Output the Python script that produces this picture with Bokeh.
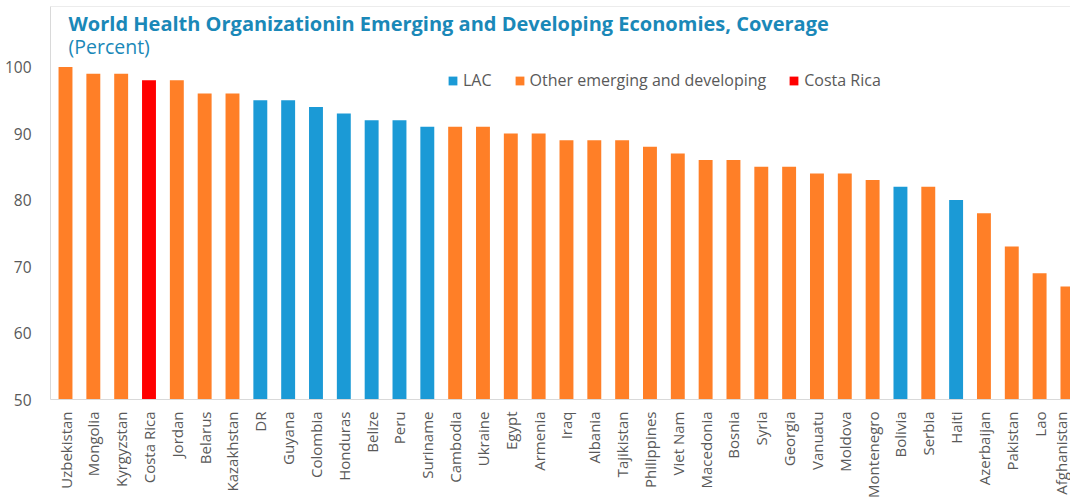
from bokeh.plotting import figure
from bokeh.models import ColumnDataSource, Range1d, FixedTicker, Label, Legend, LegendItem, Span
from bokeh.embed import file_html
from bokeh.resources import INLINE

countries = ["Uzbekistan", "Mongolia", "Kyrgyzstan", "Costa Rica", "Jordan", "Belarus",
             "Kazakhstan", "DR", "Guyana", "Colombia", "Honduras", "Belize", "Peru",
             "Suriname", "Cambodia", "Ukraine", "Egypt", "Armenia", "Iraq", "Albania",
             "Tajikistan", "Philippines", "Viet Nam", "Macedonia", "Bosnia", "Syria",
             "Georgia", "Vanuatu", "Moldova", "Montenegro", "Bolivia", "Serbia", "Haiti",
             "Azerbaijan", "Pakistan", "Lao", "Afghanistan"]
coverage = [100, 99, 99, 98, 98, 96, 96, 95, 95, 94, 93, 92, 92, 91, 91, 91, 90, 90, 89,
            89, 89, 88, 87, 86, 86, 85, 85, 84, 84, 83, 82, 82, 80, 78, 73, 69, 67]
groups = ["Other", "Other", "Other", "Costa Rica", "Other", "Other", "Other",
          "LAC", "LAC", "LAC", "LAC", "LAC", "LAC", "LAC",
          "Other", "Other", "Other", "Other", "Other", "Other", "Other", "Other",
          "Other", "Other", "Other", "Other", "Other", "Other", "Other", "Other",
          "LAC", "Other", "LAC", "Other", "Other", "Other", "Other"]
group_keys = ["LAC", "Other", "Costa Rica"]
legend_labels = ["LAC", "Other emerging and developing", "Costa Rica"]
group_colors = ["#1B9AD6", "#FF7F27", "#FF0000"]
y_ticks = [50, 60, 70, 80, 90, 100]
title_text = "World Health Organizationin Emerging and Developing Economies, Coverage"
subtitle_text = "(Percent)"

FONT = "Open Sans"
GRAY = "#595959"
TITLE_COLOR = "#1A88B8"

y_start, y_end = 50, 109.1
p = figure(width=1070, height=502, output_backend="svg", toolbar_location=None,
           x_range=Range1d(-0.539, 36.11), y_range=Range1d(y_start, y_end),
           min_border_left=50, min_border_right=0, min_border_top=6, min_border_bottom=103)
p.outline_line_color = None
p.background_fill_color = "white"
p.border_fill_color = "white"
p.xgrid.visible = False
p.ygrid.visible = False

items = []
for key, lab, col in zip(group_keys, legend_labels, group_colors):
    idx = [i for i, g in enumerate(groups) if g == key]
    src = ColumnDataSource(dict(x=idx, top=[coverage[i] for i in idx]))
    r = p.vbar(x="x", top="top", bottom=y_start, width=0.5, source=src,
               fill_color=col, line_color=None)
    items.append(LegendItem(label=lab, renderers=[r]))

legend = Legend(items=items, orientation="horizontal", location=(397, 308),
                glyph_width=11, glyph_height=11, label_standoff=5, spacing=22,
                padding=0, margin=0, border_line_color=None, background_fill_alpha=0,
                label_text_font=FONT, label_text_font_size="16px", label_text_color=GRAY,
                label_height=11, label_width=0)
p.add_layout(legend)

# axes
p.xaxis.ticker = FixedTicker(ticks=list(range(len(countries))))
p.xaxis.major_label_overrides = {i: c for i, c in enumerate(countries)}
p.xaxis.major_label_orientation = 3.14159265 / 2
p.xaxis.major_label_text_font = FONT
p.xaxis.major_label_text_font_size = "15px"
p.xaxis.major_label_text_color = GRAY
p.xaxis.major_label_standoff = 6
p.xaxis.major_tick_line_color = None
p.xaxis.minor_tick_line_color = None
p.xaxis.axis_line_color = "#D9D9D9"

p.yaxis.ticker = FixedTicker(ticks=y_ticks)
p.yaxis.major_label_text_font = FONT
p.yaxis.major_label_text_font_size = "15.5px"
p.yaxis.major_label_text_color = GRAY
p.yaxis.major_label_standoff = 13
p.yaxis.major_tick_line_color = None
p.yaxis.minor_tick_line_color = None
p.yaxis.axis_line_color = "#D9D9D9"

p.add_layout(Span(location=y_end, dimension="width", line_color="#D9D9D9", line_width=1))

p.add_layout(Label(x=0.108, y=106.54, text=title_text, text_font=FONT, text_font_style="bold",
                   text_font_size="20px", text_color=TITLE_COLOR, text_align="left",
                   text_baseline="alphabetic"))
p.add_layout(Label(x=0.108, y=103.1, text=subtitle_text, text_font=FONT,
                   text_font_size="19.5px", text_color=TITLE_COLOR, text_align="left",
                   text_baseline="alphabetic"))

open("out.html", "w").write(file_html(p, INLINE))
